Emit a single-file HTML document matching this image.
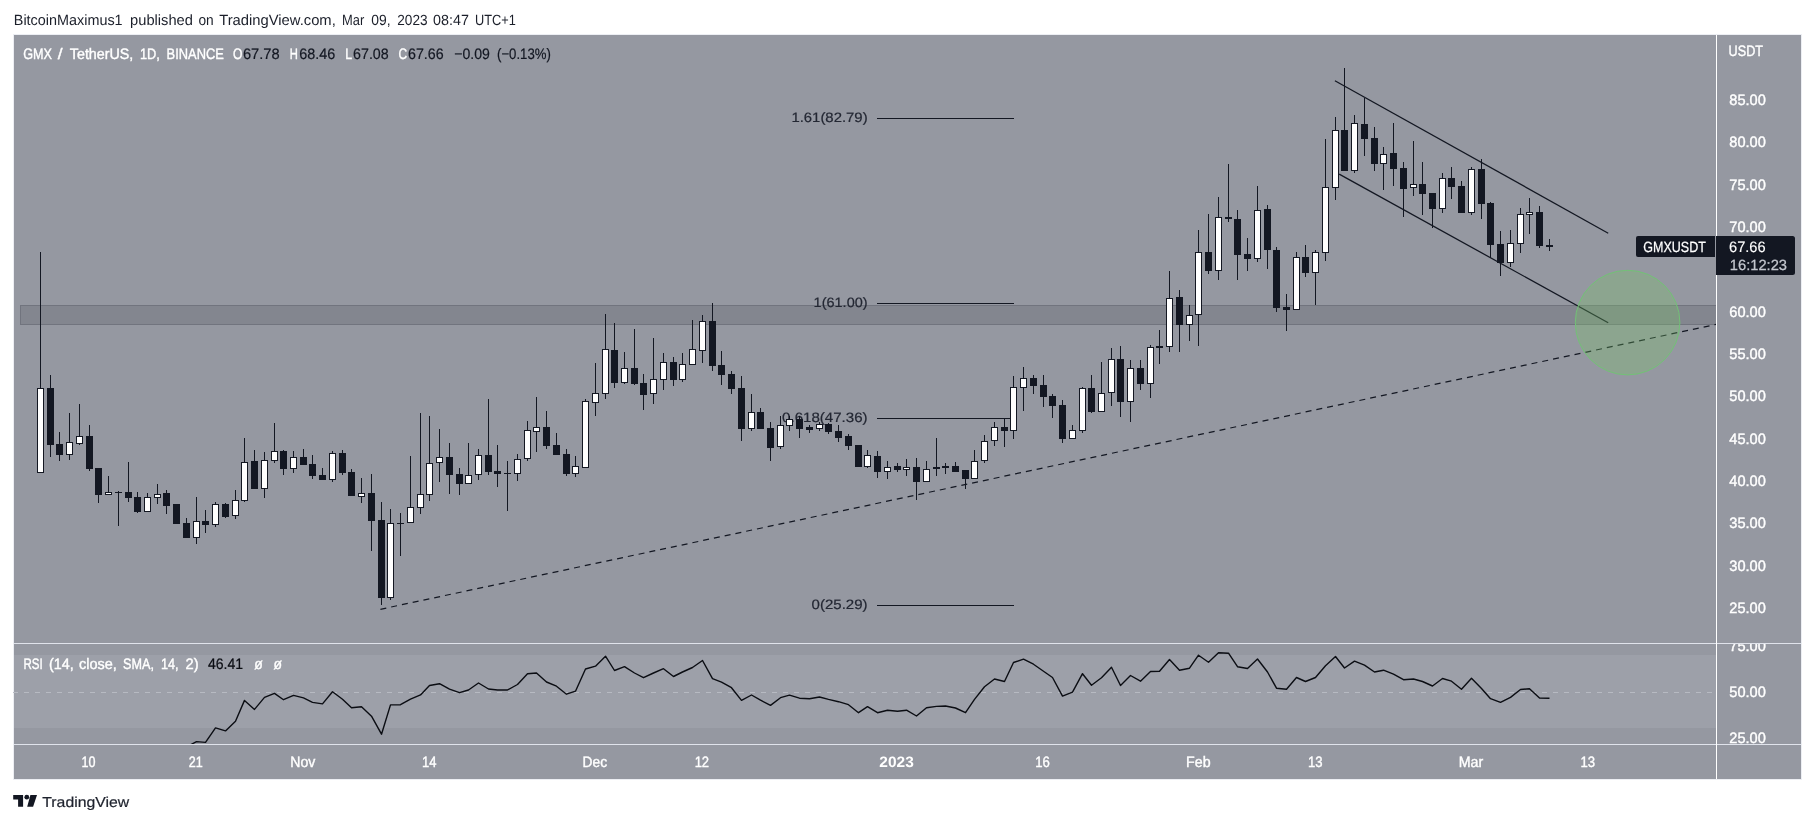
<!DOCTYPE html><html><head><meta charset="utf-8"><title>GMXUSDT</title>
<style>html,body{margin:0;padding:0;background:#fff;}svg{display:block;font-family:"Liberation Sans",sans-serif;will-change:transform;text-rendering:geometricPrecision;}</style></head><body>
<svg width="1814" height="823" viewBox="0 0 1814 823">
<rect width="1814" height="823" fill="#fff"/>
<rect x="14" y="35" width="1787" height="744" fill="#9598a1"/>
<rect x="13.5" y="34.5" width="1788" height="745" fill="none" stroke="#eceef3" stroke-width="1"/>
<defs><clipPath id="mp"><rect x="14" y="35" width="1702" height="608"/></clipPath><clipPath id="rp"><rect x="14" y="644" width="1702" height="100"/></clipPath></defs>
<rect x="14" y="655" width="1702" height="73" fill="#9da0a9"/>
<line x1="13" y1="692.5" x2="1716" y2="692.5" stroke="#b7bac2" stroke-width="1" stroke-dasharray="5 6"/>
<g clip-path="url(#mp)">
<rect x="20.5" y="305.5" width="1700" height="19" fill="#83868f" stroke="#71747e" stroke-width="1"/>
<line x1="877" y1="118.5" x2="1014" y2="118.5" stroke="#131722" stroke-width="1"/>
<line x1="877" y1="303.5" x2="1014" y2="303.5" stroke="#131722" stroke-width="1"/>
<line x1="877" y1="418.5" x2="1014" y2="418.5" stroke="#131722" stroke-width="1"/>
<line x1="877" y1="605.5" x2="1014" y2="605.5" stroke="#131722" stroke-width="1"/>
<text x="791.40" y="122.05" textLength="76.20" lengthAdjust="spacingAndGlyphs" font-size="13.6" fill="#232733" stroke="#232733" stroke-width="0.2">1.61(82.79)</text>
<text x="813.60" y="307.05" textLength="54.00" lengthAdjust="spacingAndGlyphs" font-size="13.6" fill="#232733" stroke="#232733" stroke-width="0.2">1(61.00)</text>
<text x="782.10" y="422.05" textLength="85.50" lengthAdjust="spacingAndGlyphs" font-size="13.6" fill="#232733" stroke="#232733" stroke-width="0.2">0.618(47.36)</text>
<text x="811.60" y="609.05" textLength="56.00" lengthAdjust="spacingAndGlyphs" font-size="13.6" fill="#232733" stroke="#232733" stroke-width="0.2">0(25.29)</text>
<line x1="380.4" y1="609.3" x2="1716" y2="324.42" stroke="#131722" stroke-width="1.2" stroke-dasharray="6 5"/>
<line x1="1334.9" y1="80.7" x2="1608.2" y2="233.2" stroke="#131722" stroke-width="1.25"/>
<line x1="1339.2" y1="174.1" x2="1608.2" y2="322.8" stroke="#131722" stroke-width="1.25"/>
<path d="M40.5 252V473M50.5 375V457M59.5 432V461M69.5 413V460M79.5 404V445M89.5 425V471M98.5 468V503M108.5 476V495M118.5 491V526M128.5 462V502M137.5 492V513M147.5 493V512M157.5 484V504M166.5 490V514M176.5 504V524M186.5 518V538M196.5 497V544M205.5 510V533M215.5 502V527M225.5 503V518M235.5 490V519M244.5 438V502M254.5 450V489M264.5 452V498M274.5 423V463M283.5 450V475M293.5 451V473M303.5 449V465M312.5 455V479M322.5 468V480M332.5 451V482M342.5 450V475M351.5 469V496M361.5 478V503M371.5 474V551M381.5 502V605M390.5 509V600M400.5 513V556M410.5 456V523M420.5 413V514M429.5 416V501M439.5 429V482M449.5 443V494M459.5 468V495M468.5 443V484M478.5 449V480M488.5 399V475M497.5 445V487M507.5 461V511M517.5 454V481M527.5 421V461M536.5 397V452M546.5 411V449M556.5 433V455M566.5 449V476M575.5 456V477M585.5 399V468M595.5 363V416M605.5 314V399M614.5 323V388M624.5 352V384M634.5 329V385M643.5 374V410M653.5 338V404M663.5 353V390M673.5 357V386M682.5 353V382M692.5 320V365M702.5 315V363M712.5 303V371M721.5 351V385M731.5 371V394M741.5 376V441M751.5 394V431M760.5 408V429M770.5 422V461M780.5 416V449M789.5 416V431M799.5 416V438M809.5 425V433M819.5 422V431M828.5 423V434M838.5 425V442M848.5 434V450M858.5 445V467M867.5 450V468M877.5 451V478M887.5 461V479M897.5 463V472M906.5 459V476M916.5 458V500M926.5 461V482M936.5 438V476M945.5 463V474M955.5 462V472M965.5 470V489M974.5 450V479M984.5 435V463M994.5 422V446M1004.5 418V447M1013.5 376V439M1023.5 367V411M1033.5 375V394M1043.5 375V407M1052.5 394V418M1062.5 400V443M1072.5 425V439M1082.5 387V433M1091.5 375V413M1101.5 362V412M1111.5 348V406M1120.5 346V417M1130.5 360V422M1140.5 360V390M1150.5 345V398M1159.5 330V364M1169.5 271V352M1179.5 290V352M1189.5 305V341M1198.5 230V346M1208.5 214V274M1218.5 197V280M1228.5 164V222M1237.5 210V280M1247.5 238V271M1257.5 186V262M1267.5 205V269M1276.5 247V312M1286.5 294V331M1296.5 252V310M1305.5 245V277M1315.5 250V305M1325.5 139V261M1335.5 117V200M1344.5 68V171M1354.5 115V173M1364.5 98V156M1374.5 127V171M1383.5 147V190M1393.5 123V186M1403.5 162V217M1413.5 141V196M1422.5 162V215M1432.5 193V228M1442.5 173V213M1451.5 167V199M1461.5 181V213M1471.5 167V215M1481.5 159V219M1490.5 202V258M1500.5 231V276M1510.5 230V267M1520.5 208V253M1529.5 198V234M1539.5 206V248M1549.5 239V251" stroke="#131722" stroke-width="1" fill="none" shape-rendering="crispEdges"/>
<path d="M47 388h7v57h-7zM56 444h7v11h-7zM86 436h7v33h-7zM95 468h7v27h-7zM115 492h7v1h-7zM125 492h7v6h-7zM134 497h7v15h-7zM163 493h7v13h-7zM173 504h7v20h-7zM183 523h7v15h-7zM202 521h7v4h-7zM222 504h7v13h-7zM251 461h7v28h-7zM280 451h7v18h-7zM300 457h7v8h-7zM309 464h7v12h-7zM319 475h7v5h-7zM339 453h7v20h-7zM348 472h7v24h-7zM368 493h7v28h-7zM378 520h7v78h-7zM397 523h7v1h-7zM446 457h7v18h-7zM456 474h7v10h-7zM485 455h7v17h-7zM494 471h7v3h-7zM504 473h7v1h-7zM543 427h7v19h-7zM553 445h7v10h-7zM563 454h7v20h-7zM611 350h7v33h-7zM631 368h7v16h-7zM640 383h7v12h-7zM670 362h7v18h-7zM709 321h7v45h-7zM718 365h7v10h-7zM728 374h7v15h-7zM738 388h7v41h-7zM757 412h7v17h-7zM767 428h7v20h-7zM796 419h7v10h-7zM806 427h7v3h-7zM825 424h7v8h-7zM835 431h7v7h-7zM845 436h7v10h-7zM855 445h7v22h-7zM874 456h7v16h-7zM894 466h7v4h-7zM913 467h7v15h-7zM933 467h7v2h-7zM942 466h7v2h-7zM952 466h7v6h-7zM962 470h7v9h-7zM1001 427h7v4h-7zM1030 378h7v8h-7zM1040 385h7v12h-7zM1049 396h7v10h-7zM1059 405h7v34h-7zM1088 388h7v24h-7zM1117 359h7v43h-7zM1137 368h7v16h-7zM1156 346h7v2h-7zM1176 297h7v28h-7zM1205 252h7v19h-7zM1225 217h7v2h-7zM1234 219h7v36h-7zM1244 254h7v5h-7zM1264 209h7v41h-7zM1273 250h7v58h-7zM1283 307h7v3h-7zM1302 257h7v16h-7zM1341 130h7v41h-7zM1361 124h7v15h-7zM1371 138h7v26h-7zM1390 153h7v16h-7zM1400 168h7v21h-7zM1419 184h7v10h-7zM1429 193h7v16h-7zM1448 178h7v9h-7zM1458 186h7v27h-7zM1478 169h7v35h-7zM1487 203h7v42h-7zM1497 244h7v19h-7zM1536 212h7v34h-7zM1546 245h7v2h-7z" fill="#131722" shape-rendering="crispEdges"/>
<path d="M37 388h7v85h-7zM66 442h7v13h-7zM76 436h7v8h-7zM105 492h7v3h-7zM144 497h7v15h-7zM154 494h7v4h-7zM193 521h7v17h-7zM212 504h7v21h-7zM232 500h7v16h-7zM241 462h7v39h-7zM261 460h7v29h-7zM271 451h7v10h-7zM290 457h7v12h-7zM329 453h7v27h-7zM358 493h7v4h-7zM387 523h7v75h-7zM407 507h7v16h-7zM417 494h7v14h-7zM426 463h7v32h-7zM436 457h7v6h-7zM465 475h7v9h-7zM475 455h7v20h-7zM514 459h7v15h-7zM524 430h7v29h-7zM533 427h7v5h-7zM572 466h7v8h-7zM582 401h7v67h-7zM592 393h7v10h-7zM602 349h7v45h-7zM621 368h7v15h-7zM650 379h7v15h-7zM660 362h7v18h-7zM679 364h7v16h-7zM689 349h7v16h-7zM699 321h7v30h-7zM748 412h7v17h-7zM777 425h7v22h-7zM786 419h7v7h-7zM816 424h7v5h-7zM864 455h7v12h-7zM884 467h7v5h-7zM903 467h7v3h-7zM923 469h7v13h-7zM971 461h7v18h-7zM981 441h7v20h-7zM991 427h7v14h-7zM1010 387h7v44h-7zM1020 378h7v10h-7zM1069 430h7v9h-7zM1079 388h7v43h-7zM1098 393h7v19h-7zM1108 359h7v34h-7zM1127 368h7v34h-7zM1147 347h7v37h-7zM1166 298h7v49h-7zM1186 315h7v10h-7zM1195 252h7v63h-7zM1215 217h7v54h-7zM1254 210h7v49h-7zM1293 257h7v53h-7zM1312 252h7v21h-7zM1322 187h7v66h-7zM1332 130h7v58h-7zM1351 123h7v48h-7zM1380 154h7v10h-7zM1410 184h7v4h-7zM1439 178h7v31h-7zM1468 169h7v44h-7zM1507 243h7v20h-7zM1517 214h7v30h-7zM1526 212h7v3h-7z" fill="#131722" shape-rendering="crispEdges"/>
<path d="M38 389h5v83h-5zM67 443h5v11h-5zM77 437h5v6h-5zM106 493h5v1h-5zM145 498h5v13h-5zM155 495h5v2h-5zM194 522h5v15h-5zM213 505h5v19h-5zM233 501h5v14h-5zM242 463h5v37h-5zM262 461h5v27h-5zM272 452h5v8h-5zM291 458h5v10h-5zM330 454h5v25h-5zM359 494h5v2h-5zM388 524h5v73h-5zM408 508h5v14h-5zM418 495h5v12h-5zM427 464h5v30h-5zM437 458h5v4h-5zM466 476h5v7h-5zM476 456h5v18h-5zM515 460h5v13h-5zM525 431h5v27h-5zM534 428h5v3h-5zM573 467h5v6h-5zM583 402h5v65h-5zM593 394h5v8h-5zM603 350h5v43h-5zM622 369h5v13h-5zM651 380h5v13h-5zM661 363h5v16h-5zM680 365h5v14h-5zM690 350h5v14h-5zM700 322h5v28h-5zM749 413h5v15h-5zM778 426h5v20h-5zM787 420h5v5h-5zM817 425h5v3h-5zM865 456h5v10h-5zM885 468h5v3h-5zM904 468h5v1h-5zM924 470h5v11h-5zM972 462h5v16h-5zM982 442h5v18h-5zM992 428h5v12h-5zM1011 388h5v42h-5zM1021 379h5v8h-5zM1070 431h5v7h-5zM1080 389h5v41h-5zM1099 394h5v17h-5zM1109 360h5v32h-5zM1128 369h5v32h-5zM1148 348h5v35h-5zM1167 299h5v47h-5zM1187 316h5v8h-5zM1196 253h5v61h-5zM1216 218h5v52h-5zM1255 211h5v47h-5zM1294 258h5v51h-5zM1313 253h5v19h-5zM1323 188h5v64h-5zM1333 131h5v56h-5zM1352 124h5v46h-5zM1381 155h5v8h-5zM1411 185h5v2h-5zM1440 179h5v29h-5zM1469 170h5v42h-5zM1508 244h5v18h-5zM1518 215h5v28h-5zM1527 213h5v1h-5z" fill="#fff" shape-rendering="crispEdges"/>
<circle cx="1627.6" cy="322.6" r="52.3" fill="rgb(119,195,104)" fill-opacity="0.3" stroke="#72c276" stroke-opacity="1" stroke-width="1"/>
</g>
<g clip-path="url(#rp)"><polyline points="186.5,747 196.5,741.6 205.5,742.4 215.5,727.9 225.5,730.9 235.5,721.2 244.5,700.4 254.5,709.4 264.5,697.4 274.5,693.4 283.5,699.7 293.5,695.4 303.5,697.9 312.5,702.4 322.5,703.9 332.5,691.7 342.5,699.2 351.5,707.7 361.5,706.7 371.5,716.2 381.5,734.2 390.5,704.9 400.5,704.7 410.5,699.2 420.5,694.9 429.5,685.5 439.5,683.7 449.5,689.2 459.5,692.7 468.5,690 478.5,683 488.5,689 497.5,690 507.5,690 517.5,684.5 527.5,673.7 536.5,673 546.5,682 556.5,686.2 566.5,694.2 575.5,691.2 585.5,669 595.5,666.2 605.5,656.2 614.5,670.5 624.5,666.7 634.5,673 643.5,677.7 653.5,673 663.5,668.7 673.5,676.5 682.5,672 692.5,667.5 702.5,660.5 712.5,678.7 721.5,682.2 731.5,687.7 741.5,700.4 751.5,695 760.5,700.2 770.5,705.4 780.5,697.7 789.5,695.2 799.5,698.2 809.5,698.7 819.5,697 828.5,699.4 838.5,701.7 848.5,704.7 858.5,712.7 867.5,706.7 877.5,712.7 887.5,710.2 897.5,711.2 906.5,710.2 916.5,716 926.5,707.7 936.5,706.4 945.5,706 955.5,708 965.5,712.7 974.5,699.4 984.5,686.7 994.5,679 1004.5,681.5 1013.5,662.5 1023.5,659.2 1033.5,664.2 1043.5,671.2 1052.5,677.5 1062.5,696.1 1072.5,692.2 1082.5,673.7 1091.5,685.2 1101.5,677.7 1111.5,667.2 1120.5,685.5 1130.5,675.5 1140.5,681.2 1150.5,671.5 1159.5,671.2 1169.5,659.5 1179.5,670.2 1189.5,668.2 1198.5,655.2 1208.5,662.2 1218.5,652.7 1228.5,653.2 1237.5,666.7 1247.5,668.5 1257.5,659 1267.5,672 1276.5,688.2 1286.5,689.2 1296.5,677.5 1305.5,681.5 1315.5,677.5 1325.5,665.7 1335.5,656.5 1344.5,668 1354.5,661.2 1364.5,665.2 1374.5,672 1383.5,670.2 1393.5,674.2 1403.5,679.7 1413.5,679 1422.5,681.5 1432.5,686 1442.5,678.5 1451.5,681.2 1461.5,689.2 1471.5,678.2 1481.5,688.5 1490.5,698.7 1500.5,702.4 1510.5,697.4 1520.5,689.5 1529.5,688.7 1539.5,698 1549.5,698.2" fill="none" stroke="#0b0d13" stroke-width="1.4" stroke-linejoin="round"/></g>
<rect x="14" y="643" width="1787" height="1" fill="#e0e3eb"/>
<rect x="14" y="744" width="1787" height="1" fill="#e0e3eb"/>
<rect x="1716" y="35" width="1" height="744" fill="#ffffff"/>
<text x="1729.30" y="105.00" textLength="36.50" lengthAdjust="spacingAndGlyphs" font-size="15.1" fill="#ffffff" stroke="#ffffff" stroke-width="0.4">85.00</text>
<text x="1729.30" y="147.33" textLength="36.50" lengthAdjust="spacingAndGlyphs" font-size="15.1" fill="#ffffff" stroke="#ffffff" stroke-width="0.4">80.00</text>
<text x="1729.30" y="189.67" textLength="36.50" lengthAdjust="spacingAndGlyphs" font-size="15.1" fill="#ffffff" stroke="#ffffff" stroke-width="0.4">75.00</text>
<text x="1729.30" y="232.00" textLength="36.50" lengthAdjust="spacingAndGlyphs" font-size="15.1" fill="#ffffff" stroke="#ffffff" stroke-width="0.4">70.00</text>
<text x="1729.30" y="316.67" textLength="36.50" lengthAdjust="spacingAndGlyphs" font-size="15.1" fill="#ffffff" stroke="#ffffff" stroke-width="0.4">60.00</text>
<text x="1729.30" y="359.00" textLength="36.50" lengthAdjust="spacingAndGlyphs" font-size="15.1" fill="#ffffff" stroke="#ffffff" stroke-width="0.4">55.00</text>
<text x="1729.30" y="401.33" textLength="36.50" lengthAdjust="spacingAndGlyphs" font-size="15.1" fill="#ffffff" stroke="#ffffff" stroke-width="0.4">50.00</text>
<text x="1729.30" y="443.67" textLength="36.50" lengthAdjust="spacingAndGlyphs" font-size="15.1" fill="#ffffff" stroke="#ffffff" stroke-width="0.4">45.00</text>
<text x="1729.30" y="486.00" textLength="36.50" lengthAdjust="spacingAndGlyphs" font-size="15.1" fill="#ffffff" stroke="#ffffff" stroke-width="0.4">40.00</text>
<text x="1729.30" y="528.34" textLength="36.50" lengthAdjust="spacingAndGlyphs" font-size="15.1" fill="#ffffff" stroke="#ffffff" stroke-width="0.4">35.00</text>
<text x="1729.30" y="570.67" textLength="36.50" lengthAdjust="spacingAndGlyphs" font-size="15.1" fill="#ffffff" stroke="#ffffff" stroke-width="0.4">30.00</text>
<text x="1729.30" y="613.00" textLength="36.50" lengthAdjust="spacingAndGlyphs" font-size="15.1" fill="#ffffff" stroke="#ffffff" stroke-width="0.4">25.00</text>
<text x="1728.60" y="56.00" textLength="34.40" lengthAdjust="spacingAndGlyphs" font-size="15.1" fill="#ffffff" stroke="#ffffff" stroke-width="0.4">USDT</text>
<g clip-path="url(#rax)"><defs><clipPath id="rax"><rect x="1717" y="644" width="84" height="100"/></clipPath></defs>
<text x="1729.30" y="650.90" textLength="36.50" lengthAdjust="spacingAndGlyphs" font-size="15.1" fill="#ffffff" stroke="#ffffff" stroke-width="0.4">75.00</text>
<text x="1729.30" y="697.00" textLength="36.50" lengthAdjust="spacingAndGlyphs" font-size="15.1" fill="#ffffff" stroke="#ffffff" stroke-width="0.4">50.00</text>
<text x="1729.30" y="743.10" textLength="36.50" lengthAdjust="spacingAndGlyphs" font-size="15.1" fill="#ffffff" stroke="#ffffff" stroke-width="0.4">25.00</text>
</g>
<path d="M1638 236H1715V257H1638a2 2 0 0 1-2-2V238a2 2 0 0 1 2-2z" fill="#131722"/>
<text x="1643.30" y="251.80" textLength="62.50" lengthAdjust="spacingAndGlyphs" font-size="14.8" fill="#fff" stroke="#fff" stroke-width="0.25">GMXUSDT</text>
<path d="M1716 236H1792.5a2.5 2.5 0 0 1 2.5 2.5V272.5a2.5 2.5 0 0 1-2.5 2.5H1716z" fill="#131722"/>
<text x="1729.00" y="252.00" textLength="36.60" lengthAdjust="spacingAndGlyphs" font-size="15.1" fill="#fff" stroke="#fff" stroke-width="0.15">67.66</text>
<text x="1729.80" y="270.00" textLength="57.20" lengthAdjust="spacingAndGlyphs" font-size="14.8" fill="#c3c6ce" stroke="#c3c6ce" stroke-width="0.25">16:12:23</text>
<text x="81.57" y="767.00" textLength="14.00" lengthAdjust="spacingAndGlyphs" font-size="15.1" fill="#ffffff" stroke="#ffffff" stroke-width="0.4">10</text>
<text x="188.66" y="767.00" textLength="14.00" lengthAdjust="spacingAndGlyphs" font-size="15.1" fill="#ffffff" stroke="#ffffff" stroke-width="0.4">21</text>
<text x="290.24" y="767.00" textLength="25.00" lengthAdjust="spacingAndGlyphs" font-size="15.1" fill="#ffffff" stroke="#ffffff" stroke-width="0.4">Nov</text>
<text x="422.05" y="767.00" textLength="14.50" lengthAdjust="spacingAndGlyphs" font-size="15.1" fill="#ffffff" stroke="#ffffff" stroke-width="0.4">14</text>
<text x="582.54" y="767.00" textLength="24.50" lengthAdjust="spacingAndGlyphs" font-size="15.1" fill="#ffffff" stroke="#ffffff" stroke-width="0.4">Dec</text>
<text x="694.63" y="767.00" textLength="14.50" lengthAdjust="spacingAndGlyphs" font-size="15.1" fill="#ffffff" stroke="#ffffff" stroke-width="0.4">12</text>
<text x="879.38" y="767.00" textLength="34.40" lengthAdjust="spacingAndGlyphs" font-size="15.1" fill="#ffffff" font-weight="bold">2023</text>
<text x="1035.31" y="767.00" textLength="14.60" lengthAdjust="spacingAndGlyphs" font-size="15.1" fill="#ffffff" stroke="#ffffff" stroke-width="0.4">16</text>
<text x="1186.12" y="767.00" textLength="24.50" lengthAdjust="spacingAndGlyphs" font-size="15.1" fill="#ffffff" stroke="#ffffff" stroke-width="0.4">Feb</text>
<text x="1307.88" y="767.00" textLength="14.60" lengthAdjust="spacingAndGlyphs" font-size="15.1" fill="#ffffff" stroke="#ffffff" stroke-width="0.4">13</text>
<text x="1458.69" y="767.00" textLength="24.50" lengthAdjust="spacingAndGlyphs" font-size="15.1" fill="#ffffff" stroke="#ffffff" stroke-width="0.4">Mar</text>
<text x="1580.47" y="767.00" textLength="14.60" lengthAdjust="spacingAndGlyphs" font-size="15.1" fill="#ffffff" stroke="#ffffff" stroke-width="0.4">13</text>
<text x="23.20" y="58.80" textLength="28.80" lengthAdjust="spacingAndGlyphs" font-size="15.1" fill="#fff" stroke="#fff" stroke-width="0.4">GMX</text>
<text x="57.70" y="58.80" textLength="4.80" lengthAdjust="spacingAndGlyphs" font-size="15.1" fill="#fff" stroke="#fff" stroke-width="0.4">/</text>
<text x="69.80" y="58.80" textLength="63.50" lengthAdjust="spacingAndGlyphs" font-size="15.1" fill="#fff" stroke="#fff" stroke-width="0.4">TetherUS,</text>
<text x="139.90" y="58.80" textLength="20.00" lengthAdjust="spacingAndGlyphs" font-size="15.1" fill="#fff" stroke="#fff" stroke-width="0.4">1D,</text>
<text x="166.60" y="58.80" textLength="57.30" lengthAdjust="spacingAndGlyphs" font-size="15.1" fill="#fff" stroke="#fff" stroke-width="0.4">BINANCE</text>
<text x="233.10" y="58.80" textLength="9.40" lengthAdjust="spacingAndGlyphs" font-size="15.1" fill="#fff" stroke="#fff" stroke-width="0.4">O</text>
<text x="242.90" y="58.80" textLength="36.70" lengthAdjust="spacingAndGlyphs" font-size="15.1" fill="#131722" stroke="#131722" stroke-width="0.2">67.78</text>
<text x="289.70" y="58.80" textLength="8.10" lengthAdjust="spacingAndGlyphs" font-size="15.1" fill="#fff" stroke="#fff" stroke-width="0.4">H</text>
<text x="299.30" y="58.80" textLength="36.00" lengthAdjust="spacingAndGlyphs" font-size="15.1" fill="#131722" stroke="#131722" stroke-width="0.2">68.46</text>
<text x="345.20" y="58.80" textLength="6.90" lengthAdjust="spacingAndGlyphs" font-size="15.1" fill="#fff" stroke="#fff" stroke-width="0.4">L</text>
<text x="353.10" y="58.80" textLength="35.60" lengthAdjust="spacingAndGlyphs" font-size="15.1" fill="#131722" stroke="#131722" stroke-width="0.2">67.08</text>
<text x="398.40" y="58.80" textLength="8.60" lengthAdjust="spacingAndGlyphs" font-size="15.1" fill="#fff" stroke="#fff" stroke-width="0.4">C</text>
<text x="408.00" y="58.80" textLength="35.60" lengthAdjust="spacingAndGlyphs" font-size="15.1" fill="#131722" stroke="#131722" stroke-width="0.2">67.66</text>
<text x="454.30" y="58.80" textLength="35.60" lengthAdjust="spacingAndGlyphs" font-size="15.1" fill="#131722" stroke="#131722" stroke-width="0.2">−0.09</text>
<text x="497.00" y="58.80" textLength="53.80" lengthAdjust="spacingAndGlyphs" font-size="15.1" fill="#131722" stroke="#131722" stroke-width="0.2">(−0.13%)</text>
<text x="23.50" y="669.30" textLength="19.30" lengthAdjust="spacingAndGlyphs" font-size="15.1" fill="#fff" stroke="#fff" stroke-width="0.4">RSI</text>
<text x="49.00" y="669.30" textLength="24.70" lengthAdjust="spacingAndGlyphs" font-size="15.1" fill="#fff" stroke="#fff" stroke-width="0.4">(14,</text>
<text x="79.10" y="669.30" textLength="37.80" lengthAdjust="spacingAndGlyphs" font-size="15.1" fill="#fff" stroke="#fff" stroke-width="0.4">close,</text>
<text x="123.00" y="669.30" textLength="30.90" lengthAdjust="spacingAndGlyphs" font-size="15.1" fill="#fff" stroke="#fff" stroke-width="0.4">SMA,</text>
<text x="160.90" y="669.30" textLength="17.70" lengthAdjust="spacingAndGlyphs" font-size="15.1" fill="#fff" stroke="#fff" stroke-width="0.4">14,</text>
<text x="185.60" y="669.30" textLength="13.10" lengthAdjust="spacingAndGlyphs" font-size="15.1" fill="#fff" stroke="#fff" stroke-width="0.4">2)</text>
<text x="207.90" y="669.30" textLength="35.20" lengthAdjust="spacingAndGlyphs" font-size="15.1" fill="#0b0d13" stroke="#0b0d13" stroke-width="0.2">46.41</text>
<text x="254.20" y="669.30" textLength="8.50" lengthAdjust="spacingAndGlyphs" font-size="15.1" fill="#fff" stroke="#fff" stroke-width="0.4">ø</text>
<text x="273.50" y="669.30" textLength="8.50" lengthAdjust="spacingAndGlyphs" font-size="15.1" fill="#fff" stroke="#fff" stroke-width="0.4">ø</text>
<text x="13.80" y="24.70" textLength="108.80" lengthAdjust="spacingAndGlyphs" font-size="14.8" fill="#1b1f2a">BitcoinMaximus1</text>
<text x="130.10" y="24.70" textLength="62.80" lengthAdjust="spacingAndGlyphs" font-size="14.8" fill="#1b1f2a">published</text>
<text x="198.40" y="24.70" textLength="15.30" lengthAdjust="spacingAndGlyphs" font-size="14.8" fill="#1b1f2a">on</text>
<text x="219.20" y="24.70" textLength="116.60" lengthAdjust="spacingAndGlyphs" font-size="14.8" fill="#1b1f2a">TradingView.com,</text>
<text x="342.00" y="24.70" textLength="22.20" lengthAdjust="spacingAndGlyphs" font-size="14.8" fill="#1b1f2a">Mar</text>
<text x="371.30" y="24.70" textLength="19.30" lengthAdjust="spacingAndGlyphs" font-size="14.8" fill="#1b1f2a">09,</text>
<text x="397.30" y="24.70" textLength="30.30" lengthAdjust="spacingAndGlyphs" font-size="14.8" fill="#1b1f2a">2023</text>
<text x="433.10" y="24.70" textLength="35.80" lengthAdjust="spacingAndGlyphs" font-size="14.8" fill="#1b1f2a">08:47</text>
<text x="475.00" y="24.70" textLength="40.80" lengthAdjust="spacingAndGlyphs" font-size="14.8" fill="#1b1f2a">UTC+1</text>
<path d="M13.2 795h9.9v11.8h-5v-7.2h-4.9z" fill="#131722"/>
<circle cx="26.8" cy="797.2" r="2.4" fill="#131722"/>
<path d="M30.4 795H37l-3.9 11.8h-5.9z" fill="#131722"/>
<text x="42.30" y="806.70" textLength="86.90" lengthAdjust="spacingAndGlyphs" font-size="14.5" fill="#1e222d" stroke="#1e222d" stroke-width="0.2">TradingView</text>
</svg></body></html>
